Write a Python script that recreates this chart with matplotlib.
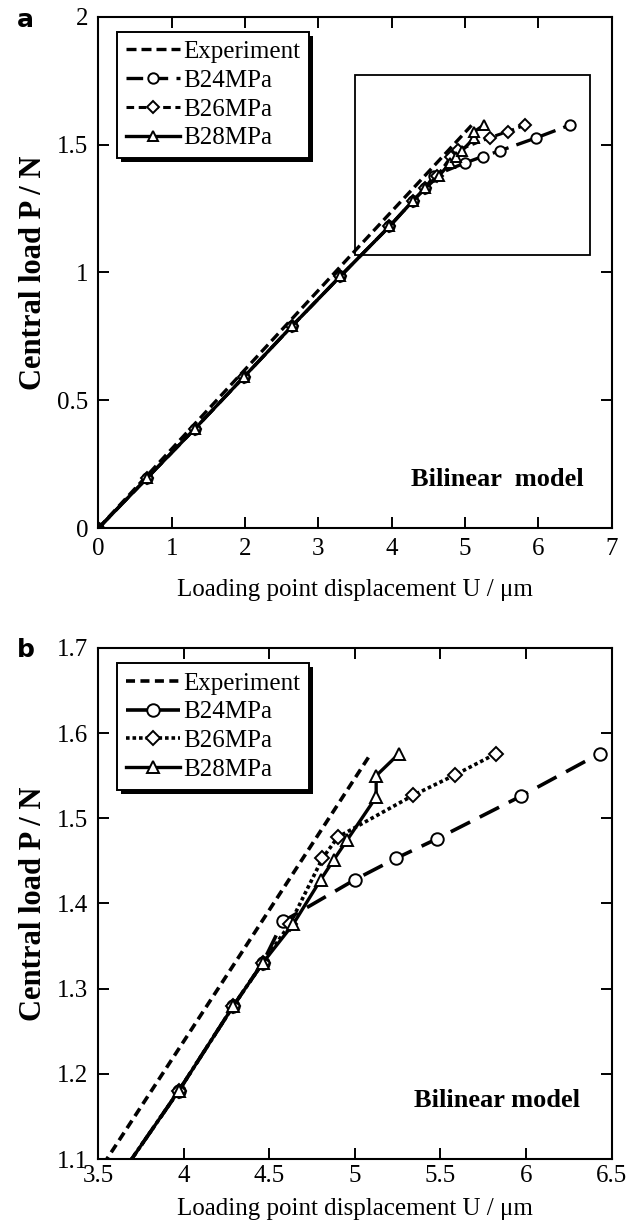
import matplotlib
matplotlib.use("Agg")
import matplotlib.pyplot as plt
from matplotlib.patches import Rectangle
import matplotlib.patheffects as pe

# ---------------- data ----------------
exp_x = [0.0, 1.29, 2.58, 3.55, 4.33, 5.09]
exp_y = [0.0, 0.40, 0.80, 1.10, 1.34, 1.575]

common_x = [0.0, 0.66, 1.32, 1.98, 2.64, 3.30, 3.97, 4.29, 4.46]
common_y = [0.0, 0.195, 0.39, 0.59, 0.79, 0.985, 1.18, 1.28, 1.33]

b24_x = common_x + [4.58, 5.00, 5.24, 5.48, 5.97, 6.43]
b24_y = common_y + [1.379, 1.428, 1.453, 1.476, 1.526, 1.576]

b26_x = common_x + [4.62, 4.81, 4.90, 5.34, 5.585, 5.825]
b26_y = common_y + [1.376, 1.453, 1.478, 1.527, 1.551, 1.576]

b28_x = common_x + [4.64, 4.80, 4.875, 4.956, 5.124, 5.124, 5.258]
b28_y = common_y + [1.376, 1.428, 1.451, 1.475, 1.525, 1.550, 1.576]

xticks_a = [0, 1, 2, 3, 4, 5, 6, 7]
yticks_a = [0, 0.5, 1, 1.5, 2]
xticks_b = [3.5, 4, 4.5, 5, 5.5, 6, 6.5]
yticks_b = [1.1, 1.2, 1.3, 1.4, 1.5, 1.6, 1.7]

zoom_box = (3.5, 1.07, 6.7, 1.77)

# ---------------- style ----------------
plt.rcParams['font.family'] = ['Liberation Serif', 'DejaVu Serif']
TFS = 18

fig = plt.figure(figsize=(6.36, 12.24), dpi=100)
ax1 = fig.add_axes([0.1546, 0.5684, 0.807, 0.418])
ax2 = fig.add_axes([0.1546, 0.0531, 0.807, 0.4175])


def style_axes(ax, xpad):
    for s in ax.spines.values():
        s.set_linewidth(1.5)
    ax.tick_params(direction='in', length=8, width=1.4, top=True, right=True,
                   labelsize=TFS, pad=7)
    ax.set_xlabel('Loading point displacement U / μm', fontsize=TFS, labelpad=xpad)
    ax.set_ylabel('Central load P / N', fontsize=TFS + 4, fontweight='bold', labelpad=7)


def make_legend(ax, handles):
    leg = ax.legend(handles=handles, loc='upper left', bbox_to_anchor=(0.037, 0.97),
                    fontsize=TFS, frameon=True, fancybox=False, shadow=False, framealpha=1.0,
                    handlelength=2.15, handletextpad=0.12, borderpad=0.35,
                    labelspacing=0.25, borderaxespad=0.0)
    fr = leg.get_frame()
    fr.set_edgecolor('black')
    fr.set_linewidth(1.4)
    fr.set_facecolor('white')
    fr.set_path_effects([pe.SimplePatchShadow(offset=(3, -3), shadow_rgbFace='black', alpha=1.0),
                         pe.Normal()])
    return leg


mk = dict(markerfacecolor='white', markeredgecolor='black', markeredgewidth=1.4, color='black')

# ---------- panel a ----------
h0, = ax1.plot(exp_x, exp_y, linestyle=(0, (3, 1.5)), lw=2.4, color='black', label='Experiment')
h1, = ax1.plot(b24_x, b24_y, linestyle=(0, (5, 2.5)), lw=2.4, marker='o', ms=7.5, label='B24MPa', **mk)
h2, = ax1.plot(b26_x, b26_y, linestyle=(0, (2.5, 1.5)), lw=2.2, marker='D', ms=6, label='B26MPa', **mk)
h3, = ax1.plot(b28_x, b28_y, linestyle='-', lw=2.4, marker='^', ms=7, label='B28MPa', **mk)
ax1.add_patch(Rectangle((zoom_box[0], zoom_box[1]), zoom_box[2] - zoom_box[0],
                        zoom_box[3] - zoom_box[1], fill=False, edgecolor='black', lw=1.3))
ax1.set_xlim(0, 7)
ax1.set_ylim(0, 2)
ax1.set_xticks(xticks_a)
ax1.set_xticklabels([str(v) for v in xticks_a])
ax1.set_yticks(yticks_a)
ax1.set_yticklabels(['0', '0.5', '1', '1.5', '2'])
style_axes(ax1, 14)
ax1.text(5.44, 0.19, 'Bilinear  model', fontsize=TFS + 1, fontweight='bold', ha='center', va='center')
make_legend(ax1, [h0, h1, h2, h3])

# ---------- panel b ----------
g0, = ax2.plot(exp_x, exp_y, linestyle=(0, (2.5, 1.5)), lw=2.6, color='black', label='Experiment')
g1, = ax2.plot(b24_x, b24_y, linestyle=(0, (6, 3)), lw=2.6, marker='o', ms=9, label='B24MPa', **mk)
g2, = ax2.plot(b26_x, b26_y, linestyle=(0, (1, 0.8)), lw=2.6, marker='D', ms=7, label='B26MPa', **mk)
g3, = ax2.plot(b28_x, b28_y, linestyle='-', lw=2.4, marker='^', ms=8, label='B28MPa', **mk)
ax2.set_xlim(3.5, 6.5)
ax2.set_ylim(1.1, 1.7)
ax2.set_xticks(xticks_b)
ax2.set_xticklabels(['3.5', '4', '4.5', '5', '5.5', '6', '6.5'])
ax2.set_yticks(yticks_b)
ax2.set_yticklabels(['1.1', '1.2', '1.3', '1.4', '1.5', '1.6', '1.7'])
style_axes(ax2, 8)
ax2.tick_params(axis='x', pad=4)
ax2.text(5.83, 1.169, 'Bilinear model', fontsize=TFS + 1, fontweight='bold', ha='center', va='center')
make_legend(ax2, [g0, g1, g2, g3])

fig.text(0.040, 0.984, 'a', fontsize=18, fontweight='bold', family='DejaVu Sans', ha='center', va='center')
fig.text(0.040, 0.469, 'b', fontsize=18, fontweight='bold', family='DejaVu Sans', ha='center', va='center')

fig.savefig('out.png', dpi=100)
